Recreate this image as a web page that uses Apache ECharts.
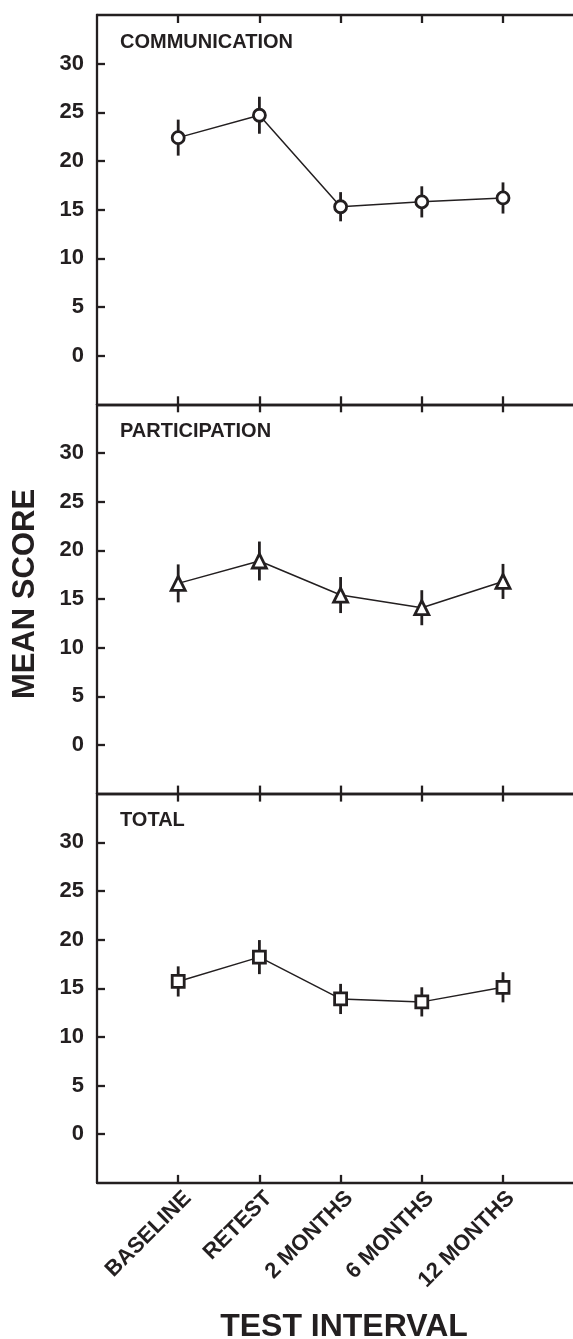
<!DOCTYPE html>
<html>
<head>
<meta charset="utf-8">
<script src="https://cdn.jsdelivr.net/npm/echarts@6/dist/echarts.min.js"></script>
<style>
  html, body { margin: 0; padding: 0; background: #fff; }
  #chart { width: 573px; height: 1339px; }
</style>
</head>
<body>
<div id="chart"></div>
<script>
// test intervals (x) and y tick labels
const categories = ['BASELINE', 'RETEST', '2 MONTHS', '6 MONTHS', '12 MONTHS'];
const yTicks = [0, 5, 10, 15, 20, 25, 30];
const panelNames = ['COMMUNICATION', 'PARTICIPATION', 'TOTAL'];

// mean scores and error bar half-lengths
const communicationMean = [22.4, 24.7, 15.3, 15.8, 16.2];
const communicationErr = [1.85, 1.9, 1.5, 1.6, 1.6];
const participationMean = [16.6, 18.9, 15.4, 14.1, 16.8];
const participationErr = [1.95, 2.0, 1.85, 1.8, 1.8];
const totalMean = [15.7, 18.2, 13.9, 13.6, 15.1];
const totalErr = [1.55, 1.75, 1.55, 1.5, 1.55];

const INK = '#231f20';
const FONT = '"Liberation Sans", Arial, Helvetica, sans-serif';

const panels = [
  { mean: communicationMean, err: communicationErr, symbol: 'circle', size: 12 },
  { mean: participationMean, err: participationErr, symbol: 'triangle', size: 14 },
  { mean: totalMean, err: totalErr, symbol: 'rect', size: 12 }
];

const chart = echarts.init(document.getElementById('chart'));

// panel frame: plot runs off the right edge of the page
const LEFT = 97;
const UNIT = 81.2;              // px per test interval
const PANEL_TOP = 15;
const PANEL_H = 389.3;
const CHART_W = 573;
const XMAX = (CHART_W - LEFT) / UNIT;
const xTickPos = categories.map((c, k) => k + 1);

const axisLine = { show: true, onZero: false, lineStyle: { color: INK, width: 2.3 } };
const xTick = { show: true, inside: true, length: 8, customValues: xTickPos, lineStyle: { color: INK, width: 2.3 } };
const yTick = { show: true, inside: true, length: 8, customValues: yTicks, lineStyle: { color: INK, width: 2.3 } };

const grids = [];
const xAxes = [];
const yAxes = [];
const series = [];
const titles = [];

panels.forEach((p, i) => {
  const top = PANEL_TOP + i * PANEL_H;
  grids.push({ left: LEFT, top: top, width: CHART_W - LEFT, height: PANEL_H });

  xAxes.push({
    type: 'value', gridIndex: i, position: 'bottom',
    min: 0, max: XMAX, interval: 1,
    axisLine: axisLine, axisTick: xTick,
    axisLabel: { show: false }, splitLine: { show: false }
  });
  // top edge, ticks pointing down into the panel
  xAxes.push({
    type: 'value', gridIndex: i, position: 'top',
    min: 0, max: XMAX, interval: 1,
    axisLine: axisLine, axisTick: xTick,
    axisLabel: { show: false }, splitLine: { show: false }
  });

  yAxes.push({
    type: 'value', gridIndex: i,
    min: -5, max: 35, interval: 5,
    axisLine: axisLine, axisTick: yTick,
    axisLabel: {
      margin: 13, color: INK, fontSize: 22, fontWeight: 'bold', fontFamily: FONT,
      customValues: yTicks,
      formatter: (v) => (yTicks.includes(v) ? String(v) : '')
    },
    splitLine: { show: false }
  });

  // error bars
  series.push({
    type: 'custom',
    xAxisIndex: i * 2, yAxisIndex: i,
    z: 1,
    silent: true,
    data: p.mean.map((m, k) => [k + 1, m - p.err[k], m + p.err[k]]),
    renderItem: (params, api) => {
      const lo = api.coord([api.value(0), api.value(1)]);
      const hi = api.coord([api.value(0), api.value(2)]);
      return {
        type: 'line',
        shape: { x1: lo[0], y1: lo[1], x2: hi[0], y2: hi[1] },
        style: { stroke: INK, lineWidth: 2.8 }
      };
    }
  });

  // means
  series.push({
    type: 'line',
    xAxisIndex: i * 2, yAxisIndex: i,
    z: 3,
    data: p.mean.map((m, k) => [k + 1, m]),
    symbol: p.symbol,
    symbolSize: p.size,
    showSymbol: true,
    lineStyle: { color: INK, width: 1.5 },
    itemStyle: { color: '#fff', borderColor: INK, borderWidth: 2.8 }
  });

  titles.push({
    text: panelNames[i],
    left: 120, top: top + 17, padding: 0,
    textStyle: { color: INK, fontSize: 20, fontWeight: 'bold', fontFamily: FONT }
  });
});

// rotated interval labels sit a little right of their ticks in the original,
// so they get their own label-only axis on a slightly shifted grid
const LABEL_SHIFT = 10;
grids.push({ left: LEFT + LABEL_SHIFT, top: PANEL_TOP + 2 * PANEL_H, width: CHART_W - LEFT - LABEL_SHIFT, height: PANEL_H });
xAxes.push({
  type: 'value', gridIndex: 3, position: 'bottom',
  min: 0, max: (CHART_W - LEFT - LABEL_SHIFT) / UNIT, interval: 1,
  axisLine: { show: false }, axisTick: { show: false }, splitLine: { show: false },
  axisLabel: {
    rotate: 45, margin: 12,
    color: INK, fontSize: 22, fontWeight: 'bold', fontFamily: FONT,
    formatter: (v) => categories[v - 1] || ''
  }
});
yAxes.push({ type: 'value', gridIndex: 3, show: false, min: -5, max: 35 });

const option = {
  backgroundColor: '#fff',
  animation: false,
  title: titles,
  grid: grids,
  xAxis: xAxes,
  yAxis: yAxes,
  series: series,
  graphic: [
    {
      type: 'text', x: 25, y: 594, rotation: Math.PI / 2,
      style: {
        text: 'MEAN SCORE', fill: INK,
        font: 'bold 31px ' + FONT,
        align: 'center', verticalAlign: 'middle'
      }
    },
    {
      type: 'text', x: 344, y: 1327,
      style: {
        text: 'TEST INTERVAL', fill: INK,
        font: 'bold 32px ' + FONT,
        align: 'center', verticalAlign: 'middle'
      }
    }
  ]
};

chart.setOption(option);
</script>
</body>
</html>
